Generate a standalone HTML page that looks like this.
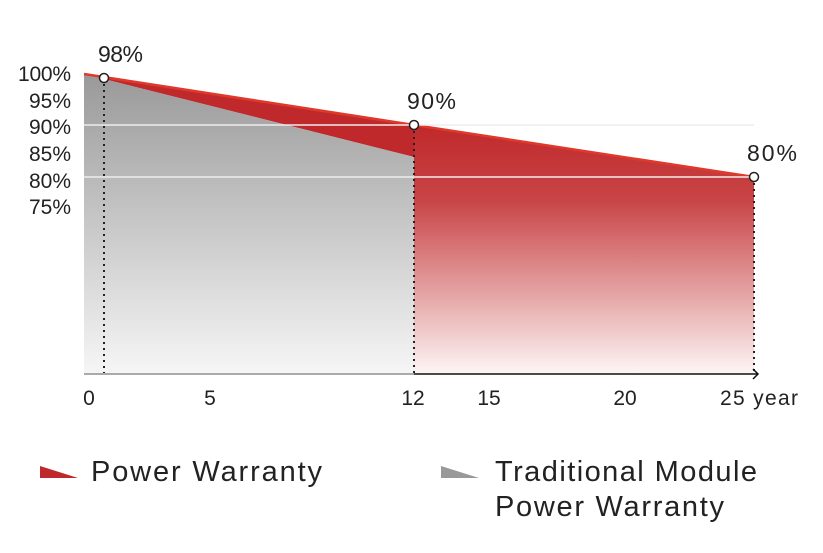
<!DOCTYPE html>
<html><head><style>
body{margin:0;background:#fff;}
text{font-family:"Liberation Sans",sans-serif;fill:#222;}
</style></head><body>
<svg width="823" height="548" viewBox="0 0 823 548">
<defs>
<linearGradient id="g" x1="0" y1="0" x2="0" y2="1"><stop offset="0" stop-color="#999"/><stop offset="1" stop-color="#f6f6f6"/></linearGradient>
<linearGradient id="r" x1="0" y1="0" x2="0" y2="1"><stop offset="0" stop-color="#c0292b"/><stop offset="0.3" stop-color="#c84446"/><stop offset="1" stop-color="#fdf5f5"/></linearGradient>
</defs>
<polygon points="84,74 414,125 414,157" fill="#c0292b"/>
<polygon points="84,74 414,157 414,374 84,374" fill="url(#g)"/>
<polygon points="414,125 754,177 754,374 414,374" fill="url(#r)"/>
<polyline points="84,74 414,125 754,177" fill="none" stroke="#e0392c" stroke-width="2.5"/>
<line x1="84" y1="125" x2="754" y2="125" stroke="#eee" stroke-width="1.5"/>
<line x1="84" y1="177" x2="754" y2="177" stroke="#eee" stroke-width="1.5"/>
<line x1="104" y1="78" x2="104" y2="374" stroke="#222" stroke-width="2" stroke-dasharray="2,4"/>
<line x1="414" y1="125" x2="414" y2="374" stroke="#222" stroke-width="2" stroke-dasharray="2,4"/>
<line x1="754" y1="177" x2="754" y2="374" stroke="#222" stroke-width="2" stroke-dasharray="2,4"/>
<line x1="84" y1="374" x2="414" y2="374" stroke="#aaa" stroke-width="2"/>
<line x1="414" y1="374" x2="758" y2="374" stroke="#111" stroke-width="1.5"/>
<polyline points="753,369 758,374 753,379" fill="none" stroke="#111" stroke-width="1.5"/>
<circle cx="104" cy="78" r="4.5" fill="#fff" stroke="#222" stroke-width="1.5"/>
<circle cx="414" cy="125" r="4.5" fill="#fff" stroke="#222" stroke-width="1.5"/>
<circle cx="754" cy="177" r="4.5" fill="#fff" stroke="#222" stroke-width="1.5"/>
<g font-size="21" text-anchor="end">
<text x="71" y="81" textLength="53">100%</text><text x="71" y="108">95%</text><text x="71" y="134">90%</text>
<text x="71" y="161">85%</text><text x="71" y="188">80%</text><text x="71" y="214">75%</text>
</g>
<g font-size="23">
<text x="98" y="62" textLength="45">98%</text><text x="407" y="109" textLength="49">90%</text><text x="747" y="161" textLength="50">80%</text>
</g>
<g font-size="21" text-anchor="middle">
<text x="89" y="405">0</text><text x="210" y="405">5</text><text x="413" y="405">12</text>
<text x="489" y="405">15</text><text x="625" y="405">20</text>
</g>
<text x="720" y="405" font-size="21" textLength="78">25 year</text>
<polygon points="40,466 78,478 40,478" fill="#c0292b"/>
<polygon points="441,466 479,478 441,478" fill="#999"/>
<g font-size="29">
<text x="91" y="481" textLength="231">Power Warranty</text>
<text x="495" y="481" textLength="262">Traditional Module</text>
<text x="495" y="516" textLength="229">Power Warranty</text>
</g>
</svg>
</body></html>
